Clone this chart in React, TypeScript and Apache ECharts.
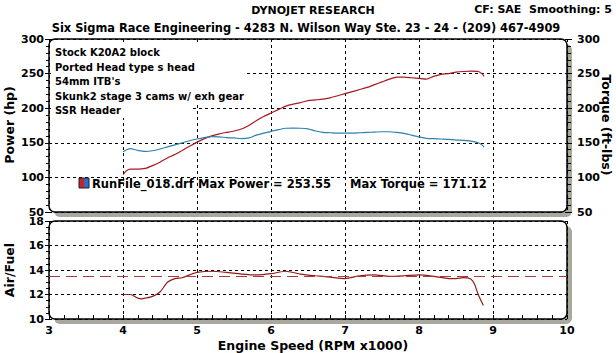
import React, { useEffect, useRef } from 'react';
import * as echarts from 'echarts';

const rpm = [4.0, 4.05, 4.1, 4.2, 4.3, 4.4, 4.5, 4.6, 4.7, 4.8, 4.9, 5.0, 5.1, 5.2, 5.3, 5.4, 5.5, 5.6, 5.7, 5.8, 5.9, 6.0, 6.1, 6.2, 6.3, 6.4, 6.5, 6.6, 6.7, 6.8, 6.9, 7.0, 7.1, 7.2, 7.3, 7.4, 7.5, 7.6, 7.7, 7.8, 7.9, 8.0, 8.1, 8.2, 8.3, 8.4, 8.5, 8.6, 8.7, 8.8, 8.85, 8.88];
const powerHp = [104, 110, 112, 112, 113, 117, 122, 128, 133, 139, 145, 151, 156, 160, 163, 165, 167, 170, 175, 182, 188, 193, 198, 203, 206, 208, 211, 212, 213, 215, 218, 221, 224, 227, 230, 234, 238, 242, 245, 245, 244, 243, 242, 246, 249, 250, 252, 253, 253.5, 253, 250, 246];
const torqueFtLbs = [137, 140, 141.5, 139, 137.5, 138.5, 141, 144, 147, 150, 153, 155.5, 157.5, 159, 158.5, 157.5, 157, 156, 157, 161, 164, 166.5, 169, 171, 171.1, 171, 170, 167, 165, 164.5, 164, 164, 164, 164.5, 165, 165.5, 166, 166, 165, 163.5, 161, 158.5, 156.5, 156, 155.5, 155, 154, 153.5, 152.5, 150, 147, 144];
const afrRpm = [4.0, 4.1, 4.2, 4.25, 4.3, 4.4, 4.5, 4.6, 4.7, 4.8, 4.9, 5.0, 5.2, 5.4, 5.6, 5.8, 6.0, 6.2, 6.4, 6.6, 6.8, 7.0, 7.2, 7.4, 7.6, 7.8, 8.0, 8.2, 8.4, 8.5, 8.6, 8.7, 8.75, 8.8, 8.87];
const afrValues = [12.0, 12.0, 11.7, 11.65, 11.7, 11.85, 12.2, 13.0, 13.3, 13.37, 13.6, 13.8, 13.9, 13.8, 13.67, 13.6, 13.7, 13.9, 13.67, 13.53, 13.42, 13.3, 13.53, 13.6, 13.48, 13.53, 13.6, 13.48, 13.3, 13.3, 13.37, 13.26, 12.85, 12.0, 11.1];
const afrTarget = 13.5;

const titleText = 'DYNOJET RESEARCH';
const cfText = 'CF: SAE  Smoothing: 5';
const headerText = 'Six Sigma Race Engineering - 4283 N. Wilson Way Ste. 23 - 24 - (209) 467-4909';
const notes = ['Stock K20A2 block', 'Ported Head type s head', "54mm ITB's", 'Skunk2 stage 3 cams w/ exh gear', 'SSR Header'];
const runFile = 'RunFile_018.drf';
const maxPowerText = 'Max Power = 253.55';
const maxTorqueText = 'Max Torque = 171.12';

const FONT = 'DejaVu Sans';

function txt(x: number, y: number, text: string, size: number, opts: any = {}) {
  const { align = 'left', rotation = 0, z = 20 } = opts;
  return {
    type: 'text',
    x,
    y,
    rotation,
    z,
    style: {
      text,
      fontSize: size,
      fontWeight: 'bold',
      fontFamily: FONT,
      fill: '#000',
      align,
      textAlign: align,
      verticalAlign: 'middle',
      textVerticalAlign: 'middle',
    },
  };
}

export default function App() {
  const ref = useRef<HTMLDivElement>(null);
  useEffect(() => {
    if (!ref.current) return;
    const chart = echarts.init(ref.current, undefined, { renderer: 'svg' });
    const labelStyle = { fontFamily: FONT, fontWeight: 'bold', fontSize: 11, color: '#000', lineHeight: 8 };
    const dashed = { color: '#000', type: [3, 3], width: 1 };
    const G0 = { x: 49, y: 39, w: 518, h: 173 };
    const G1 = { x: 49, y: 221, w: 518, h: 98 };
    const boxes: any[] = [];
    [G0, G1].forEach((g) => {
      boxes.push({ type: 'rect', z: -2, shape: { x: g.x + 5, y: g.y + 5, width: g.w, height: g.h, r: 6 }, style: { fill: '#A9A89E' } });
      boxes.push({ type: 'rect', z: -1, shape: { x: g.x, y: g.y, width: g.w, height: g.h, r: 6 }, style: { fill: '#fff', stroke: '#000', lineWidth: 1.5 } });
    });
    const noteEls: any[] = [
      { type: 'rect', z: 10, shape: { x: 51, y: 45, width: 194, height: 58 }, style: { fill: '#fff' } },
      { type: 'rect', z: 10, shape: { x: 51, y: 103, width: 141, height: 15 }, style: { fill: '#fff' } },
    ];
    notes.forEach((n, i) => noteEls.push(txt(55, 52.5 + i * 14.6, n, 10)));
    const option: any = {
      animation: false,
      backgroundColor: '#fff',
      grid: [
        { left: G0.x, top: G0.y, width: G0.w, height: G0.h },
        { left: G1.x, top: G1.y, width: G1.w, height: G1.h },
      ],
      xAxis: [
        {
          type: 'value', gridIndex: 0, min: 3, max: 10, interval: 1,
          axisLine: { show: false }, axisTick: { show: false }, axisLabel: { show: false },
          splitLine: { show: true, lineStyle: dashed },
        },
        {
          type: 'value', gridIndex: 1, min: 3, max: 10, interval: 1,
          axisLine: { show: false },
          axisTick: { show: true, inside: true, length: 4, lineStyle: { color: '#000' } },
          minorTick: { show: true, splitNumber: 5, length: 4, lineStyle: { color: '#000' } },
          axisLabel: { ...labelStyle, margin: 7 },
          splitLine: { show: true, lineStyle: dashed },
        },
      ],
      yAxis: [
        {
          type: 'value', gridIndex: 0, min: 50, max: 300, interval: 50, position: 'left',
          axisLine: { show: false },
          axisTick: { show: true, length: 4, lineStyle: { color: '#000' } },
          minorTick: { show: true, splitNumber: 5, length: 3, lineStyle: { color: '#000' } },
          axisLabel: { ...labelStyle, margin: 5 },
          splitLine: { show: true, lineStyle: dashed },
        },
        {
          type: 'value', gridIndex: 0, min: 50, max: 300, interval: 50, position: 'right',
          axisLine: { show: false },
          axisTick: { show: true, length: 5, lineStyle: { color: '#000' } },
          minorTick: { show: true, splitNumber: 5, length: 4, lineStyle: { color: '#000' } },
          axisLabel: { ...labelStyle, margin: 10 },
          splitLine: { show: false },
        },
        {
          type: 'value', gridIndex: 1, min: 10, max: 18, interval: 2,
          axisLine: { show: false },
          axisTick: { show: true, length: 4, lineStyle: { color: '#000' } },
          minorTick: { show: true, splitNumber: 4, length: 3, lineStyle: { color: '#000' } },
          axisLabel: { ...labelStyle, margin: 5 },
          splitLine: { show: true, lineStyle: dashed },
        },
      ],
      series: [
        {
          type: 'line', name: 'Power', xAxisIndex: 0, yAxisIndex: 0, showSymbol: false, smooth: 0.2,
          lineStyle: { color: '#A8181E', width: 1.2 },
          data: rpm.map((r, i) => [r, powerHp[i]]),
        },
        {
          type: 'line', name: 'Torque', xAxisIndex: 0, yAxisIndex: 1, showSymbol: false, smooth: 0.2,
          lineStyle: { color: '#2F80AC', width: 1.2 },
          data: rpm.map((r, i) => [r, torqueFtLbs[i]]),
        },
        {
          type: 'line', name: 'Air/Fuel', xAxisIndex: 1, yAxisIndex: 2, showSymbol: false, smooth: 0.2,
          lineStyle: { color: '#8E1A1A', width: 1.2 },
          data: afrRpm.map((r, i) => [r, afrValues[i]]),
          markLine: {
            silent: true, symbol: 'none', label: { show: false },
            lineStyle: { color: '#A83A3A', type: [11, 6], width: 1.2 },
            data: [{ yAxis: afrTarget }],
          },
        },
      ],
      graphic: [
        ...boxes,
        ...noteEls,
        txt(313, 10, titleText, 11, { align: 'center' }),
        txt(612, 9, cfText, 11, { align: 'right' }),
        txt(306, 28, headerText, 11.4, { align: 'center' }),
        txt(9, 125, 'Power (hp)', 12.5, { align: 'center', rotation: Math.PI / 2 }),
        txt(606, 125, 'Torque (ft-lbs)', 12.5, { align: 'center', rotation: -Math.PI / 2 }),
        txt(9, 270, 'Air/Fuel', 12.5, { align: 'center', rotation: Math.PI / 2 }),
        txt(313, 345, 'Engine Speed (RPM x1000)', 12.5, { align: 'center' }),
        { type: 'rect', z: 20, shape: { x: 79, y: 178, width: 5, height: 10 }, style: { fill: '#C0262C' } },
        { type: 'rect', z: 20, shape: { x: 84, y: 178, width: 5, height: 10 }, style: { fill: '#3A66C4' } },
        { type: 'rect', z: 21, shape: { x: 79, y: 178, width: 10, height: 10 }, style: { fill: 'none', stroke: '#202020', lineWidth: 1 } },
        txt(92, 183.5, runFile, 11.5),
        txt(198, 183.5, maxPowerText, 11.5),
        txt(350, 183.5, maxTorqueText, 11.5),
      ],
    };
    chart.setOption(option);
    return () => chart.dispose();
  }, []);
  return <div ref={ref} style={{ position: 'fixed', left: 0, top: 0, width: 616, height: 353, background: '#fff' }} />;
}
